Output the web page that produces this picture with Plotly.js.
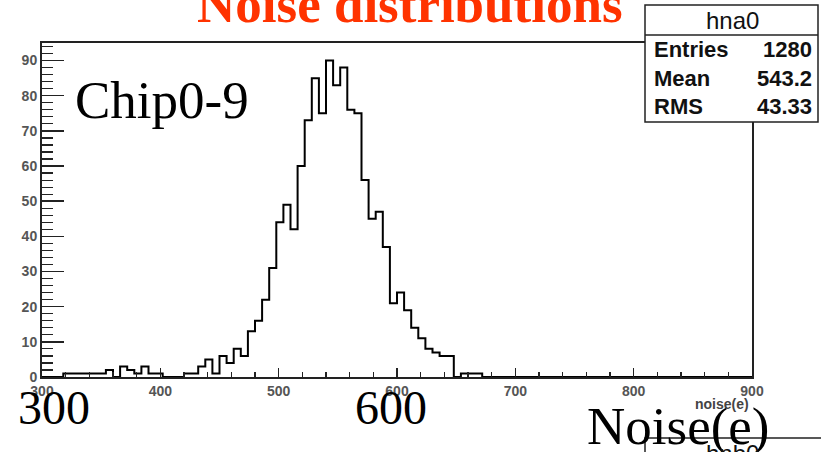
<!DOCTYPE html>
<html><head><meta charset="utf-8">
<script src="https://cdn.plot.ly/plotly-3.0.1.min.js"></script>
<style>html,body{margin:0;padding:0;background:#fff;}#chart{width:821px;height:452px;}</style>
</head><body><div id="chart"></div>
<script>
// ---- data ----
const histName = "hna0";
const histName2 = "hnb0";
const binLow = 300;
const binWidth = 6;
const counts = [
  0,0,0,1,1,1,1,1,1,2,
  0,3,2,1,3,1,1,0,0,0,
  1,1,3,5,1,6,4,8,6,13,
  16,22,31,44,49,42,60,73,85,75,
  90,83,88,76,75,56,45,47,37,21,
  24,19,14,11,8,7,6,6,0,1,
  1,1,0,0,0,0,0,0,0,0,
  0,0,0,0,0,0,0,0,0,0,
  0,0,0,0,0,0,0,0,0,0,
  0,0,0,0,0,0,0,0,0,0
];
const statsLabels = ["Entries", "Mean", "RMS"];
const statsValues = ["1280", "543.2", "43.33"];
const xTickVals = [300, 400, 500, 600, 700, 800, 900];
const yTickVals = [0, 10, 20, 30, 40, 50, 60, 70, 80, 90];
const titleText = "Noise distributions";
const xAxisLabel = "noise(e)";
const overlayChip = "Chip0-9";
const overlayX1 = "300";
const overlayX2 = "600";
const overlayXName = "Noise(e)";

// ---- build step outline from bins ----
const edges = [], ys = [];
for (let i = 0; i <= counts.length; i++) {
  edges.push(binLow + i * binWidth);
  ys.push(i < counts.length ? counts[i] : 0);
}

// ---- geometry (pixels) ----
const W = 821, H = 452, L = 42, R = 752, T = 43, B = 377;
const px = x => (x - L) / (R - L);
const py = y => (B - y) / (B - T);

const serif = "Liberation Serif, Times New Roman, serif";
const sans = "Liberation Sans, Arial, sans-serif";

const trace = {
  x: edges, y: ys, type: "scatter", mode: "lines",
  line: {shape: "hv", color: "#000", width: 2},
  hoverinfo: "skip", showlegend: false
};

const tickFont = {family: sans, size: 14, color: "#555", weight: "bold"};

const annotations = [
  {text: titleText, x: px(410), y: py(4), xref: "paper", yref: "paper", xanchor: "center", yanchor: "middle",
   showarrow: false, font: {family: serif, size: 53, color: "rgb(255,51,0)", weight: "bold"}},
  {text: overlayChip, x: px(73), y: py(100), xref: "paper", yref: "paper", xanchor: "left", yanchor: "middle",
   showarrow: false, font: {family: serif, size: 53, color: "#000"}},
  {text: overlayX1, x: px(54), y: py(408), xref: "paper", yref: "paper", xanchor: "center", yanchor: "middle",
   showarrow: false, font: {family: serif, size: 48, color: "#000"}},
  {text: overlayX2, x: px(391), y: py(408), xref: "paper", yref: "paper", xanchor: "center", yanchor: "middle",
   showarrow: false, font: {family: serif, size: 48, color: "#000"}},
  {text: overlayXName, x: px(678), y: py(426), xref: "paper", yref: "paper", xanchor: "center", yanchor: "middle",
   showarrow: false, font: {family: serif, size: 53, color: "#000"}},
  {text: xAxisLabel, x: px(751), y: py(404), xref: "paper", yref: "paper", xanchor: "right", yanchor: "middle",
   showarrow: false, font: {family: sans, size: 14, color: "#444", weight: "bold"}},
  {text: histName, x: px(732), y: py(20), xref: "paper", yref: "paper", xanchor: "center", yanchor: "middle",
   showarrow: false, font: {family: sans, size: 24, color: "#111"}},
  {text: histName2, x: px(732), y: py(453), xref: "paper", yref: "paper", xanchor: "center", yanchor: "middle",
   showarrow: false, font: {family: sans, size: 24, color: "#111"}}
];
const rowY = [49, 79, 107];
statsLabels.forEach((lab, i) => {
  annotations.push({text: lab, x: px(652), y: py(rowY[i]), xref: "paper", yref: "paper", xanchor: "left", yanchor: "middle",
    showarrow: false, font: {family: sans, size: 22, color: "#111", weight: "bold"}});
  annotations.push({text: statsValues[i], x: px(814), y: py(rowY[i]), xref: "paper", yref: "paper", xanchor: "right", yanchor: "middle",
    showarrow: false, font: {family: sans, size: 22, color: "#111", weight: "bold"}});
});

const boxLine = {color: "#222", width: 1.5};
const shapes = [
  {type: "rect", xref: "paper", yref: "paper", x0: px(645), x1: px(818), y0: py(122), y1: py(5),
   fillcolor: "#fff", line: boxLine, layer: "above"},
  {type: "line", xref: "paper", yref: "paper", x0: px(645), x1: px(818), y0: py(35), y1: py(35), line: boxLine, layer: "above"},
  {type: "rect", xref: "paper", yref: "paper", x0: px(645), x1: px(830), y0: py(470), y1: py(438),
   fillcolor: "#fff", line: boxLine, layer: "above"}
];

const layout = {
  width: W, height: H,
  margin: {l: L, r: W - R, t: T, b: H - B, pad: 0},
  paper_bgcolor: "#fff", plot_bgcolor: "#fff",
  showlegend: false,
  xaxis: {
    range: [300, 900], tickvals: xTickVals, ticks: "inside", ticklen: 9, tickwidth: 1.5, tickcolor: "#222",
    minor: {dtick: 20, ticks: "inside", ticklen: 5, tickwidth: 1.2, tickcolor: "#222", showgrid: false},
    showgrid: false, zeroline: false, showline: true, linecolor: "#222", linewidth: 2, mirror: true,
    tickfont: tickFont, fixedrange: true
  },
  yaxis: {
    range: [0, 95], tickvals: yTickVals, ticks: "inside", ticklen: 22, tickwidth: 1.5, tickcolor: "#222",
    minor: {dtick: 2, ticks: "inside", ticklen: 11, tickwidth: 1.2, tickcolor: "#222", showgrid: false},
    showgrid: false, zeroline: false, showline: true, linecolor: "#222", linewidth: 2, mirror: true,
    tickfont: tickFont, fixedrange: true
  },
  annotations: annotations,
  shapes: shapes
};

Plotly.newPlot("chart", [trace], layout, {displayModeBar: false, staticPlot: true});
</script>
</body></html>
